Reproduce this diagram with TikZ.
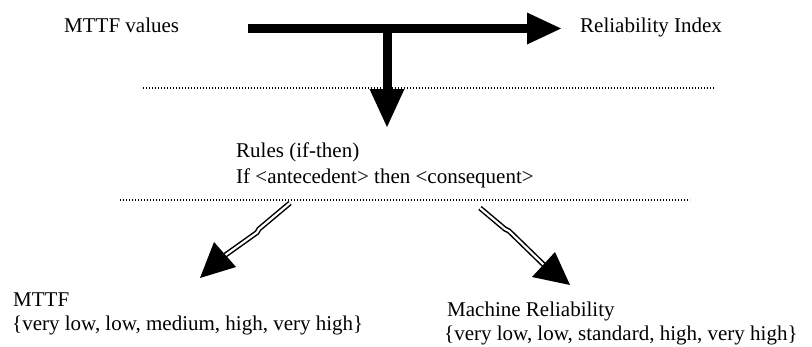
\documentclass[tikz,border=0pt]{standalone}
\usepackage{fontspec}
\setmainfont{Liberation Serif}
\begin{document}
\begin{tikzpicture}[x=1pt,y=-1pt,
  lbl/.style={anchor=base west,inner sep=0pt,font=\fontsize{21}{25}\selectfont},
  dotline/.style={line width=1.2pt,dash pattern=on 1.2pt off 1.8pt},
  fatshaft/.style={line width=9pt},
  dblshaft/.style={draw=black,line width=1.5pt,double=white,double distance=2.2pt},
  headfill/.style={fill=black}]
\useasboundingbox (0,0) rectangle (812,346);
\fill[white] (0,0) rectangle (812,346);
% texts
\node[lbl] (mttfv) at (64,32) {MTTF values};
\node[lbl] (relidx) at (580,32) {Reliability Index};
\node[lbl] (rules) at (236,157) {Rules (if-then)};
\node[lbl] (ifthen) at (236,183) {If <antecedent> then <consequent>};
\node[lbl] (mttf) at (13,306) {MTTF};
\node[lbl] (mttfset) at (12,330) {\{very low, low, medium, high, very high\}};
\node[lbl] (mrel) at (447,316) {Machine Reliability};
\node[lbl] (mrelset) at (444,340) {\{very low, low, standard, high, very high\}};
% dotted lines
\coordinate (d1a) at (143,88); \coordinate (d1b) at (714,88);
\coordinate (d2a) at (120,200); \coordinate (d2b) at (690,200);
\draw[dotline] (d1a) -- (d1b);
\draw[dotline] (d2a) -- (d2b);
% horizontal arrow
\coordinate (hs) at (248,28.5); \coordinate (he) at (528,28.5);
\draw[fatshaft] (hs) -- (he);
\fill[headfill] (527,12.5) -- (561,28.5) -- (527,44.5) -- cycle;
% vertical arrow
\coordinate (vs) at (387,33); \coordinate (ve) at (387,90);
\draw[fatshaft] (vs) -- (ve);
\fill[headfill] (369.5,89) -- (404.5,89) -- (387,127) -- cycle;
% left diagonal arrow
\coordinate (ls) at (290,203); \coordinate (lm1) at (259,229); \coordinate (lm2) at (257,232.5); \coordinate (le) at (224,256);
\draw[dblshaft] (ls) -- (lm1) -- (lm2) -- (le);
\fill[headfill] (214,242) -- (236,267) -- (200,278) -- cycle;
% right diagonal arrow
\coordinate (rs) at (480,208); \coordinate (rm1) at (505,229); \coordinate (rm2) at (509,231); \coordinate (re) at (545,266);
\draw[dblshaft] (rs) -- (rm1) -- (rm2) -- (re);
\fill[headfill] (555,252) -- (532,277) -- (570,285) -- cycle;
\end{tikzpicture}
\end{document}
